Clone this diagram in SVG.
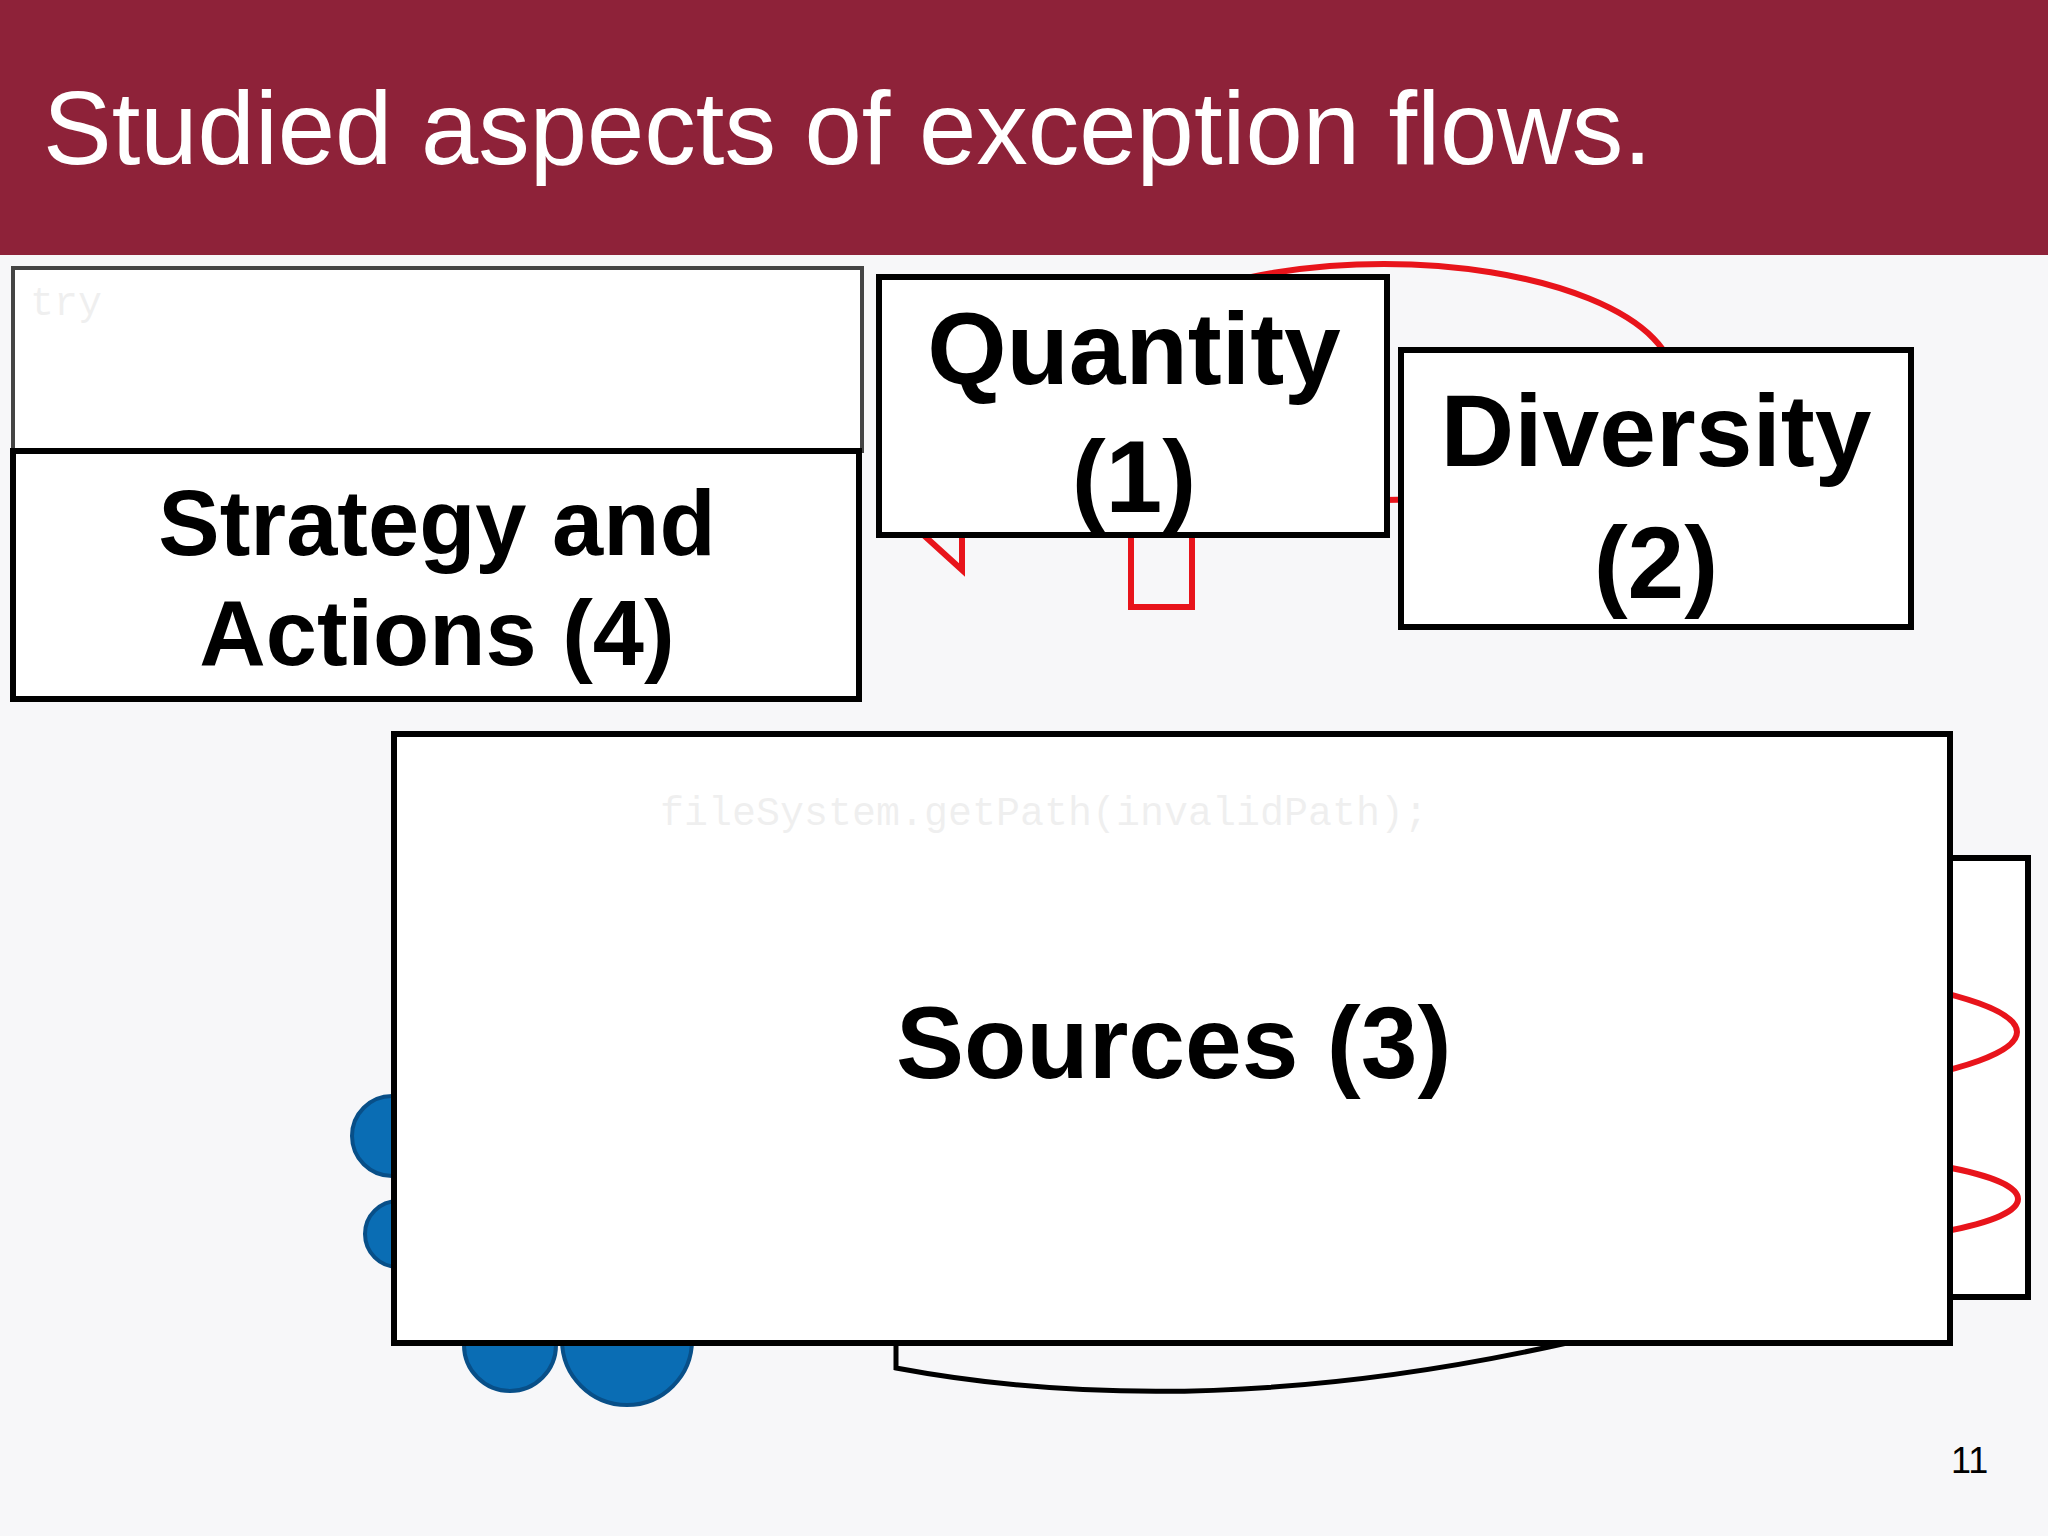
<svg xmlns="http://www.w3.org/2000/svg" width="2048" height="1536" viewBox="0 0 2048 1536">
<style>
.box{fill:#fff;stroke:#000;stroke-width:6}
.lbl{font-family:"Liberation Sans",Arial,sans-serif;font-weight:bold;font-size:92px;fill:#000;text-anchor:middle}
.big{font-size:102px}
.code{font-family:"Liberation Mono",monospace;font-size:40px;fill:#000;opacity:0.06}
.red{fill:none;stroke:#e8141b;stroke-width:6}
.blue{fill:#0a6db4;stroke:#084f88;stroke-width:4}
</style>
<rect width="2048" height="1536" fill="#f7f7f9"/>
<rect width="2048" height="255" fill="#8e2239"/>
<text x="43" y="164" font-family="Liberation Sans,Arial,sans-serif" font-size="103" fill="#fff">Studied aspects of exception flows.</text>
<g id="background">
<ellipse class="red" cx="1384" cy="382" rx="290" ry="118"/>
<rect class="red" x="1131" y="535" width="61" height="72"/>
<path class="red" d="M918 530 L962 570 L962 535"/>
<circle class="blue" cx="392" cy="1136" r="40"/>
<circle class="blue" cx="398" cy="1234" r="33"/>
<circle class="blue" cx="510" cy="1345" r="46"/>
<circle class="blue" cx="627" cy="1340" r="65"/>
<path d="M896 1343 L896 1368 Q1200 1425 1567 1343" fill="none" stroke="#000" stroke-width="5"/>
<rect x="1950" y="858" width="78" height="439" fill="#fff" stroke="#000" stroke-width="6"/>
<ellipse class="red" cx="1475" cy="1032" rx="542" ry="78"/>
<ellipse class="red" cx="1763" cy="1199" rx="255" ry="46"/>
</g>
<g id="node-strategy">
<rect x="13" y="268" width="849" height="183" fill="#fff" stroke="#444" stroke-width="4"/>
<text class="code" x="30" y="315">try</text>
<rect class="box" x="13" y="451" width="846" height="248"/>
<text class="lbl" x="437" y="555">Strategy and</text>
<text class="lbl" x="437" y="665">Actions (4)</text>
</g>
<g id="node-quantity">
<rect class="box" x="879" y="277" width="508" height="258"/>
<text class="lbl big" x="1134" y="384">Quantity</text>
<text class="lbl big" x="1134" y="512">(1)</text>
</g>
<g id="node-diversity">
<rect class="box" x="1401" y="350" width="510" height="277"/>
<text class="lbl big" x="1656" y="466">Diversity</text>
<text class="lbl big" x="1656" y="598">(2)</text>
</g>
<g id="node-sources">
<rect class="box" x="394" y="734" width="1556" height="609"/>
<text class="code" x="660" y="825">fileSystem.getPath(invalidPath);</text>
<text class="lbl big" x="896" y="1078" style="text-anchor:start">Sources (3)</text>
</g>
<g id="connectors"></g>
<text x="1951" y="1473" font-family="Liberation Sans,Arial,sans-serif" font-size="36" fill="#000">11</text>
</svg>
